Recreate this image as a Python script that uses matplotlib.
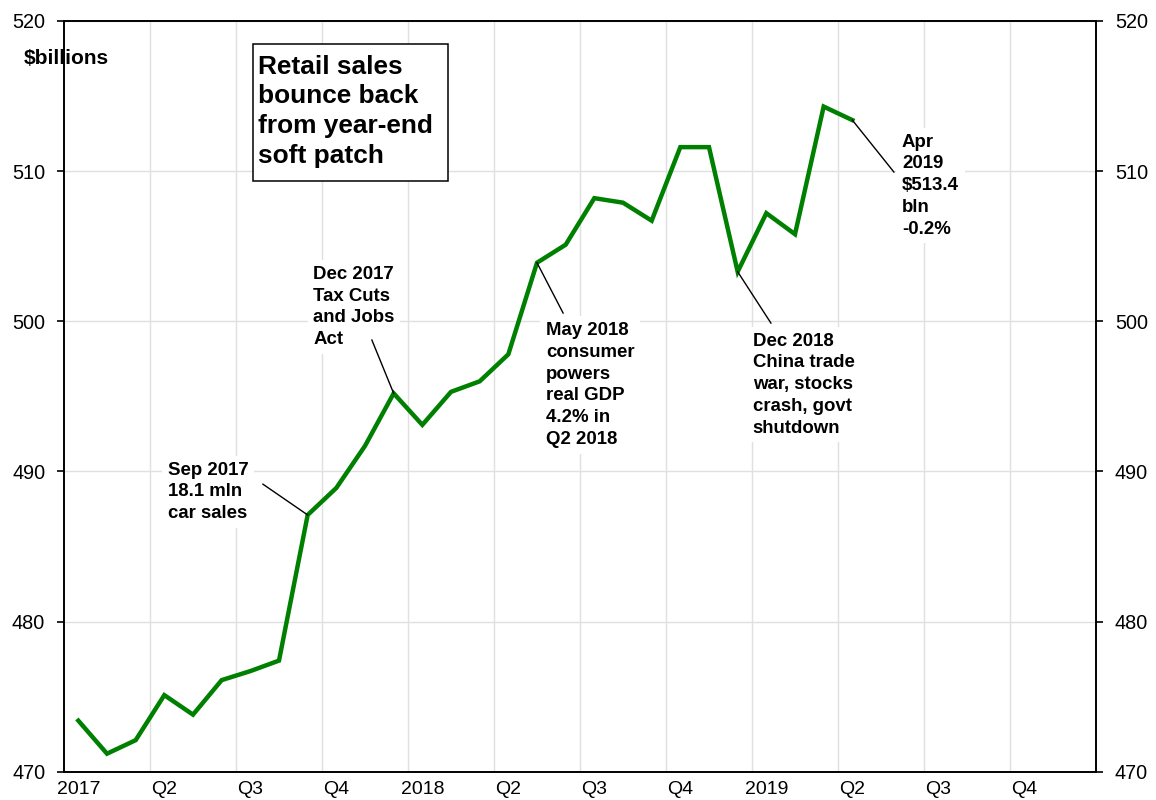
import matplotlib
matplotlib.use("Agg")
import matplotlib.pyplot as plt
from matplotlib.patches import Rectangle
import numpy as np

plt.rcParams['font.family'] = ['Liberation Sans', 'DejaVu Sans']

# Monthly retail sales, $ billions, Jan 2017 - Apr 2019
months = ["Jan 2017", "Feb 2017", "Mar 2017", "Apr 2017", "May 2017", "Jun 2017",
          "Jul 2017", "Aug 2017", "Sep 2017", "Oct 2017", "Nov 2017", "Dec 2017",
          "Jan 2018", "Feb 2018", "Mar 2018", "Apr 2018", "May 2018", "Jun 2018",
          "Jul 2018", "Aug 2018", "Sep 2018", "Oct 2018", "Nov 2018", "Dec 2018",
          "Jan 2019", "Feb 2019", "Mar 2019", "Apr 2019"]
sales = [473.4, 471.2, 472.1, 475.1, 473.8, 476.1,
         476.7, 477.4, 487.1, 488.9, 491.7, 495.2,
         493.1, 495.3, 496.0, 497.8, 503.9, 505.1,
         508.2, 507.9, 506.7, 511.6, 511.6, 503.3,
         507.2, 505.8, 514.3, 513.4]
n_periods = 36  # Jan 2017 - Dec 2019
tick_labels = ["2017", "Q2", "Q3", "Q4", "2018", "Q2", "Q3", "Q4", "2019", "Q2", "Q3", "Q4"]
y_ticks = [470, 480, 490, 500, 510, 520]

# annotations: (month label, text, text x, text top y, connector start x, connector start y)
notes = [
    ("Sep 2017", "Sep 2017\n18.1 mln\ncar sales", 3.13, 490.65, 6.44, 489.15),
    ("Dec 2017", "Dec 2017\nTax Cuts\nand Jobs\nAct", 8.19, 503.7, 10.24, 498.75),
    ("May 2018", "May 2018\nconsumer\npowers\nreal GDP\n4.2% in\nQ2 2018", 16.31, 499.95, 16.91, 500.55),
    ("Dec 2018", "Dec 2018\nChina trade\nwar, stocks\ncrash, govt\nshutdown", 23.53, 499.25, 24.16, 499.88),
    ("Apr 2019", "Apr\n2019\n$513.4\nbln\n-0.2%", 28.73, 512.5, 28.45, 509.94),
]

fig = plt.figure(figsize=(11.56, 8.0), dpi=100)
L, R, T, B = 64, 1096, 21, 771.7
ax = fig.add_axes([L / 1156, (800 - B) / 800, (R - L) / 1156, (B - T) / 800])

x = np.arange(len(sales))
ax.plot(x, sales, color='#008000', lw=3.2, zorder=4, solid_joinstyle='miter')

ax.set_xlim(-0.5, n_periods - 0.5)
ax.set_ylim(y_ticks[0], y_ticks[-1])
ax.set_xticks(np.arange(0, n_periods, 3))
ax.set_xticklabels(tick_labels)
ax.set_xticks(np.arange(2.5, n_periods - 1, 3), minor=True)
ax.set_yticks(y_ticks)
ax.grid(True, which='minor', axis='x', color='#e0e0e0', lw=1.0, zorder=0)
ax.grid(True, which='major', axis='y', color='#e0e0e0', lw=1.0, zorder=0)
ax.tick_params(axis='x', which='both', length=0, pad=7, labelsize=14)
ax.tick_params(axis='y', which='major', length=5, width=1.2, direction='out',
               left=True, right=True, labelleft=True, labelright=True,
               pad=8.5, labelsize=14.3)
for s in ax.spines.values():
    s.set_linewidth(1.4)
    s.set_zorder(6)

fig.text(24 / 1156, 1 - 59 / 800, "$billions", fontsize=15, fontweight='bold',
         va='center', ha='left')

# title box
ax.add_patch(Rectangle((0.1831, 0.7869), 0.3721 - 0.1831, 0.9694 - 0.7869,
                       transform=ax.transAxes, facecolor='white', edgecolor='black',
                       lw=1.1, zorder=7))
ax.text(0.188, 0.955, "Retail sales\nbounce back\nfrom year-end\nsoft patch",
        transform=ax.transAxes, fontsize=18.9, fontweight='bold', va='top', ha='left',
        linespacing=1.30, zorder=8)

for label, txt, tx, ty, cx, cy in notes:
    i = months.index(label)
    ax.plot([cx, x[i]], [cy, sales[i]], color='black', lw=1.0, zorder=5)
    ax.text(tx, ty, txt, fontsize=13.4, fontweight='bold', va='top', ha='left',
            linespacing=1.37, zorder=3,
            bbox=dict(facecolor='white', edgecolor='none', pad=4))

fig.savefig("out.png", dpi=100)
